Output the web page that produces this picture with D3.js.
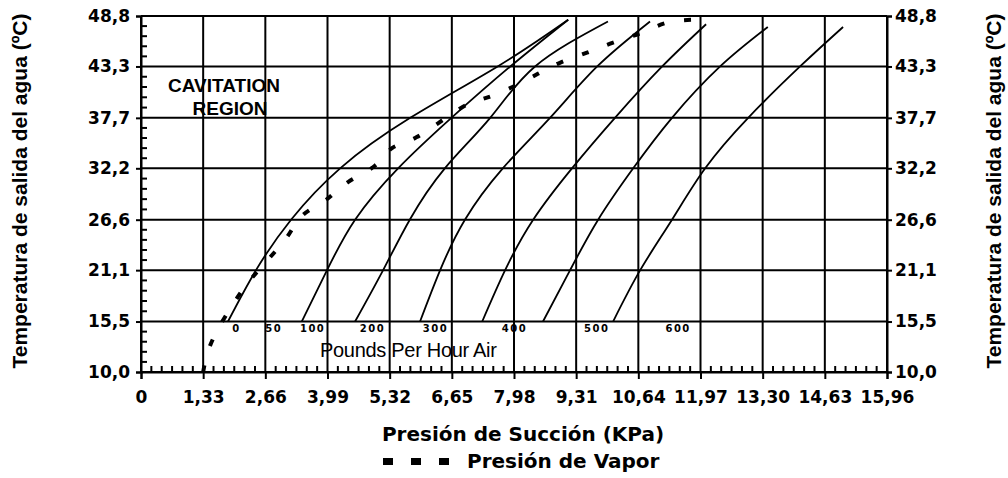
<!DOCTYPE html>
<html>
<head>
<meta charset="utf-8">
<script src="https://cdn.jsdelivr.net/npm/d3@7"></script>
<style>
  body { margin: 0; background: #fff; }
  text { fill: #000; }
</style>
</head>
<body>
<div id="chart"></div>
<script>
// Axis ticks
const xTickVals = [0, 1.33, 2.66, 3.99, 5.32, 6.65, 7.98, 9.31, 10.64, 11.97, 13.30, 14.63, 15.96];
const xTickLabels = ["0", "1,33", "2,66", "3,99", "5,32", "6,65", "7,98", "9,31", "10,64", "11,97", "13,30", "14,63", "15,96"];
const yTickVals = [10.0, 15.5, 21.1, 26.6, 32.2, 37.7, 43.3, 48.8];
const yTickLabels = ["10,0", "15,5", "21,1", "26,6", "32,2", "37,7", "43,3", "48,8"];

// Air flow curves (Pounds Per Hour Air): suction pressure (kPa) read at each temperature (ºC)
const curveNames = ["0", "100", "200", "300", "400", "500", "600"];
const curveTemps = [15.5, 21.1, 26.6, 32.2, 37.7, 43.3];
const curveTopTemp = [48.4, 48.4, 48.2, 48.2, 47.9, 47.6, 47.6];
const curveKPa = [
  [1.86, 2.46, 3.21, 4.26, 5.76, 7.63, 9.14],
  [3.44, 3.98, 4.58, 5.50, 6.64, 7.90, 9.14],
  [4.58, 5.18, 5.75, 6.50, 7.47, 8.43, 9.99],
  [5.97, 6.40, 6.93, 7.74, 8.75, 9.76, 10.89],
  [7.30, 7.79, 8.39, 9.22, 10.14, 11.15, 12.09],
  [8.60, 9.18, 9.78, 10.53, 11.36, 12.39, 13.41],
  [10.10, 10.68, 11.36, 12.07, 12.99, 14.10, 15.02]
];

// Labels of the curves, written under the 15,5 line
const flowLabels = ["0", "50", "100", "200", "300", "400", "500", "600"];
const flowLabelKPa = [1.95, 2.66, 3.40, 4.68, 6.03, 7.72, 9.48, 11.22];

// Vapour pressure (dashed)
const vaporKPa = [1.33, 1.54, 2.06, 2.38, 2.76, 3.15, 3.46, 3.94, 4.43, 5.01, 5.37, 5.90, 6.82, 7.40, 8.00, 8.49, 8.96, 9.54, 10.10, 10.72, 11.27, 11.89];
const vaporTemp = [10.0, 13.6, 18.1, 20.3, 22.5, 24.9, 27.1, 28.7, 30.7, 32.5, 34.4, 35.6, 38.7, 39.9, 41.2, 42.5, 43.7, 44.8, 45.9, 47.0, 48.1, 48.4];

const width = 1008;
const height = 478;
const pLeft = 141, pRight = 887, pTop = 16, pBottom = 372;

const svg = d3.select("#chart")
  .append("svg")
    .attr("width", width)
    .attr("height", height);

const x = d3.scaleLinear().domain([0, 15.96]).range([pLeft, pRight]);
const y = d3.scaleLinear().domain([10, 48.8]).range([pBottom, pTop]);

const tickFont = "'DejaVu Sans', sans-serif";
const arial = "'Liberation Sans', Arial, sans-serif";

// Grid
const grid = svg.append("g").attr("stroke", "#000").attr("stroke-width", 2);
grid.selectAll(".vg")
  .data(xTickVals)
  .enter().append("line")
    .attr("x1", d => x(d)).attr("x2", d => x(d))
    .attr("y1", pTop).attr("y2", pBottom);
grid.selectAll(".hg")
  .data(yTickVals)
  .enter().append("line")
    .attr("x1", pLeft).attr("x2", pRight)
    .attr("y1", d => y(d)).attr("y2", d => y(d));

// Axes
const xAxis = d3.axisBottom(x)
  .tickValues(xTickVals)
  .tickFormat((d, i) => xTickLabels[i])
  .tickSize(7)
  .tickPadding(12);
svg.append("g")
  .attr("transform", `translate(0,${pBottom})`)
  .call(xAxis)
  .call(g => g.select(".domain").attr("stroke-width", 2))
  .call(g => g.selectAll(".tick line").attr("stroke-width", 2))
  .call(g => g.selectAll("text")
    .attr("font-family", tickFont).attr("font-weight", "bold").attr("font-size", 17));

// minor ticks on bottom, pointing up
const xMinor = [];
for (let i = 0; i < xTickVals.length - 1; i++) {
  const step = (xTickVals[i + 1] - xTickVals[i]) / 6;
  for (let k = 1; k < 6; k++) xMinor.push(xTickVals[i] + k * step);
}
svg.append("g").selectAll("line")
  .data(xMinor)
  .enter().append("line")
    .attr("x1", d => x(d)).attr("x2", d => x(d))
    .attr("y1", pBottom).attr("y2", pBottom - 6)
    .attr("stroke", "#000").attr("stroke-width", 2);

// minor ticks on the left axis, pointing right
const yMinor = [];
for (let i = 0; i < yTickVals.length - 1; i++) {
  const step = (yTickVals[i + 1] - yTickVals[i]) / 5;
  for (let k = 1; k < 5; k++) yMinor.push(yTickVals[i] + k * step);
}
svg.append("g").selectAll("line")
  .data(yMinor)
  .enter().append("line")
    .attr("x1", pLeft).attr("x2", pLeft + 6)
    .attr("y1", d => y(d)).attr("y2", d => y(d))
    .attr("stroke", "#000").attr("stroke-width", 2);

const yAxisL = d3.axisLeft(y)
  .tickValues(yTickVals)
  .tickFormat((d, i) => yTickLabels[i])
  .tickSize(5)
  .tickPadding(6);
const yAxisR = d3.axisRight(y)
  .tickValues(yTickVals)
  .tickFormat((d, i) => yTickLabels[i])
  .tickSize(5)
  .tickPadding(3);
[[yAxisL, pLeft], [yAxisR, pRight]].forEach(([ax, pos]) => {
  svg.append("g")
    .attr("transform", `translate(${pos},0)`)
    .call(ax)
    .call(g => g.select(".domain").attr("stroke-width", 2))
    .call(g => g.selectAll(".tick line").attr("stroke-width", 2))
    .call(g => g.selectAll("text")
      .attr("font-family", tickFont).attr("font-weight", "bold").attr("font-size", 17));
});

// top border
svg.append("line")
  .attr("x1", pLeft).attr("x2", pRight)
  .attr("y1", pTop).attr("y2", pTop)
  .attr("stroke", "#000").attr("stroke-width", 2);

// Curves
const line = d3.line()
  .x(d => x(d[0]))
  .y(d => y(d[1]))
  .curve(d3.curveNatural);

svg.append("g").selectAll("path")
  .data(curveKPa)
  .enter().append("path")
    .attr("d", (d, c) => line(d.map((p, i) => [p, i < curveTemps.length ? curveTemps[i] : curveTopTemp[c]])))
    .attr("fill", "none")
    .attr("stroke", "#000")
    .attr("stroke-width", 1.8);

// vapour pressure, dashed
svg.append("path")
  .attr("d", line(vaporKPa.map((p, i) => [p, vaporTemp[i]])))
  .attr("fill", "none")
  .attr("stroke", "#000")
  .attr("stroke-width", 4)
  .attr("stroke-dasharray", "7,20");

// curve labels
svg.append("g").selectAll("text")
  .data(flowLabels)
  .enter().append("text")
    .attr("x", (d, i) => x(flowLabelKPa[i]))
    .attr("y", y(15.5) + 10)
    .attr("font-family", tickFont)
    .attr("font-weight", "bold")
    .attr("font-size", 10)
    .attr("letter-spacing", 1.5)
    .text(d => d);

svg.append("text")
  .attr("x", 320).attr("y", 357)
  .attr("font-family", arial)
  .attr("font-size", 20)
  .attr("letter-spacing", -0.3)
  .text("Pounds Per Hour Air");

// Cavitation region
svg.append("g")
  .attr("font-family", arial)
  .attr("font-weight", "bold")
  .attr("font-size", 19)
  .attr("text-anchor", "middle")
  .call(g => g.append("text").attr("x", 224).attr("y", 92).text("CAVITATION"))
  .call(g => g.append("text").attr("x", 230).attr("y", 115).text("REGION"));

// Axis titles
svg.append("text")
  .attr("x", 523).attr("y", 441)
  .attr("text-anchor", "middle")
  .attr("font-family", tickFont)
  .attr("font-weight", "bold")
  .attr("font-size", 20)
  .text("Presión de Succión (KPa)");

[20, 994].forEach(cx => {
  svg.append("text")
    .attr("transform", `translate(${cx},${191}) rotate(-90)`)
    .attr("text-anchor", "middle")
    .attr("dy", "0.35em")
    .attr("font-family", arial)
    .attr("font-weight", "bold")
    .attr("font-size", 21)
    .text("Temperatura de salida del agua (ºC)");
});

// Legend
const legend = svg.append("g").attr("transform", "translate(383,461)");
legend.selectAll("rect")
  .data([0, 1, 2])
  .enter().append("rect")
    .attr("x", d => d * 28)
    .attr("y", -3)
    .attr("width", 10)
    .attr("height", 7)
    .attr("fill", "#000");
legend.append("text")
  .attr("x", 84).attr("y", 7)
  .attr("font-family", tickFont)
  .attr("font-weight", "bold")
  .attr("font-size", 20)
  .text("Presión de Vapor");
</script>
</body>
</html>
